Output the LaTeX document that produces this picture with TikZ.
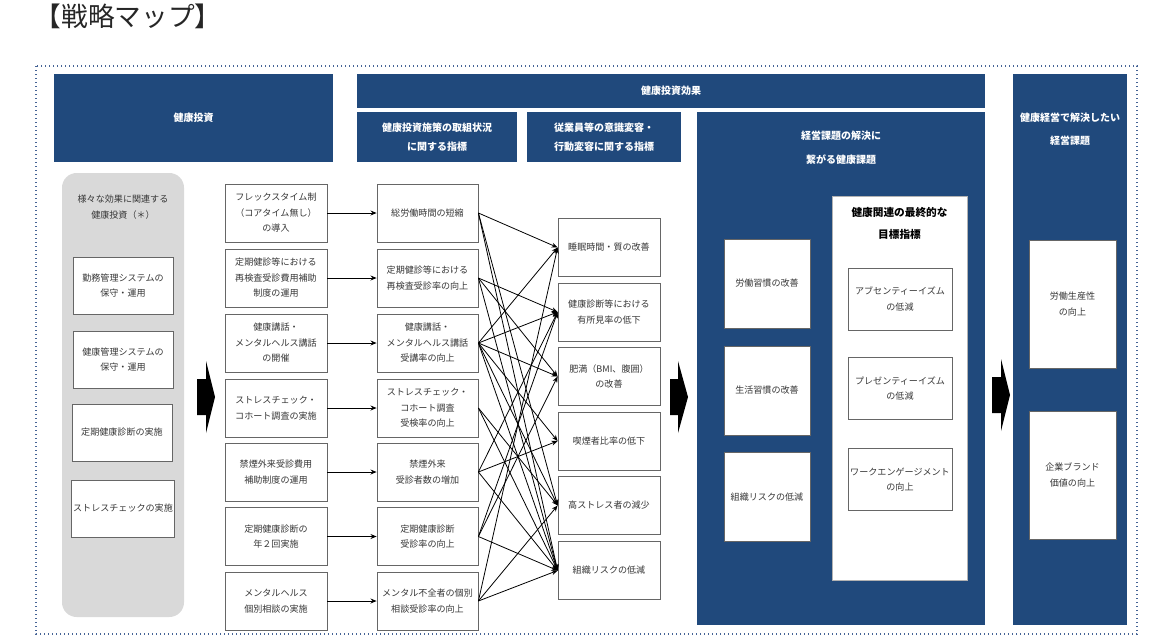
\documentclass[tikz,border=0pt]{standalone}
\usepackage{fontspec}
\usepackage{xcolor}
\usepackage{tikz}
\usetikzlibrary{arrows.meta,positioning}
\setmainfont{Noto Sans CJK JP}
\definecolor{navy}{RGB}{32,73,124}
\definecolor{panelgray}{RGB}{217,217,217}
\definecolor{txt}{RGB}{55,55,55}
\definecolor{frameblue}{RGB}{70,100,150}

\begin{document}
\begin{tikzpicture}[x=0.75pt, y=-0.75pt,
  hdr/.style={fill=navy, text=white, font=\bfseries\fontsize{7.5}{14}\selectfont, align=center, inner sep=0pt},
  box/.style={draw=gray!80!black, fill=white, line width=0.6pt, align=center, text=txt, font=\fontsize{6.8}{11.6}\selectfont, minimum width=76.5pt, minimum height=43.5pt, inner sep=1pt},
  arr/.style={-{Stealth[length=1.6mm, width=1.3mm]}, line width=0.7pt}]
  \useasboundingbox (0,0) rectangle (1169,643);
  \node[font=\fontsize{20}{22}\selectfont, text=black!85] (title) at (128,16) {【戦略マップ】};
  \draw[frameblue, dotted, line width=1pt] (36,66) rectangle (1137,634);

  \node[hdr, minimum width=209.25pt, minimum height=66pt] (inv) at (193.5,118) {健康投資};
  \node[hdr, minimum width=471pt, minimum height=25.5pt] (eff) at (671,91) {健康投資効果};
  \node[hdr, minimum width=120pt, minimum height=37.5pt] (kpi1) at (437,137) {健康投資施策の取組状況\\に関する指標};
  \node[hdr, minimum width=115.5pt, minimum height=37.5pt] (kpi2) at (604,137) {従業員等の意識変容・\\行動変容に関する指標};
  \node[hdr, minimum width=216pt, minimum height=384.75pt] (issue) at (841,368.5) {};
  \node[hdr, font=\bfseries\fontsize{7.5}{18}\selectfont] (issuet) at (841,148) {経営課題の解決に\\繋がる健康課題};
  \node[hdr, minimum width=85.5pt, minimum height=413.25pt] (mgmt) at (1070,349.5) {};
  \node[hdr, font=\bfseries\fontsize{7.5}{17}\selectfont] (mgmtt) at (1070,129.5) {健康経営で解決したい\\経営課題};

  \node[fill=panelgray, rounded corners=11pt, minimum width=91.5pt, minimum height=333pt] (base) at (123,395) {};
  \node[text=txt, align=center, font=\fontsize{6.8}{11.6}\selectfont] (baset) at (123,207) {様々な効果に関連する\\健康投資（＊）};
  \node[box, minimum width=75pt, minimum height=42.75pt] (b1) at (123,285.5) {勤務管理システムの\\保守・運用};
  \node[box, minimum width=75pt, minimum height=42.75pt] (b2) at (123,359.5) {健康管理システムの\\保守・運用};
  \node[box, minimum width=75pt, minimum height=42.75pt] (b3) at (122,432.5) {定期健康診断の実施};
  \node[box, minimum width=75pt, minimum height=42.75pt] (b4) at (123,508.5) {ストレスチェックの実施};

  \node[box] (s1) at (276,213) {フレックスタイム制\\（コアタイム無し）\\の導入};
  \node[box] (s2) at (276,278) {定期健診等における\\再検査受診費用補助\\制度の運用};
  \node[box] (s3) at (276,343) {健康講話・\\メンタルヘルス講話\\の開催};
  \node[box] (s4) at (276,408) {ストレスチェック・\\コホート調査の実施};
  \node[box] (s5) at (276,472) {禁煙外来受診費用\\補助制度の運用};
  \node[box] (s6) at (276,536.5) {定期健康診断の\\年２回実施};
  \node[box] (s7) at (276,601) {メンタルヘルス\\個別相談の実施};

  \node[box, minimum width=75.75pt] (k1) at (427.5,213) {総労働時間の短縮};
  \node[box, minimum width=75.75pt] (k2) at (427.5,278) {定期健診等における\\再検査受診率の向上};
  \node[box, minimum width=75.75pt] (k3) at (427.5,343) {健康講話・\\メンタルヘルス講話\\受講率の向上};
  \node[box, minimum width=75.75pt] (k4) at (427.5,408) {ストレスチェック・\\コホート調査\\受検率の向上};
  \node[box, minimum width=75.75pt] (k5) at (427.5,472) {禁煙外来\\受診者数の増加};
  \node[box, minimum width=75.75pt] (k6) at (427.5,536.5) {定期健康診断\\受診率の向上};
  \node[box, minimum width=75.75pt] (k7) at (427.5,601) {メンタル不全者の個別\\相談受診率の向上};

  \node[box] (e1) at (609,247.5) {睡眠時間・質の改善};
  \node[box] (e2) at (609,312) {健康診断等における\\有所見率の低下};
  \node[box] (e3) at (609,376.5) {肥満（BMI、腹囲）\\の改善};
  \node[box] (e4) at (609,441) {喫煙者比率の低下};
  \node[box] (e5) at (609,505.5) {高ストレス者の減少};
  \node[box] (e6) at (609,570.5) {組織リスクの低減};

  \node[box, minimum width=64.5pt, minimum height=66.75pt] (h1) at (767,283.5) {労働習慣の改善};
  \node[box, minimum width=64.5pt, minimum height=66.75pt] (h2) at (767,390.5) {生活習慣の改善};
  \node[box, minimum width=64.5pt, minimum height=66.75pt] (h3) at (767,497) {組織リスクの低減};
  \node[fill=white, draw=gray!60, minimum width=101.25pt, minimum height=288pt] (goal) at (899.5,388) {};
  \node[font=\bfseries\fontsize{8}{17}\selectfont, align=center] (goalt) at (899.5,223.5) {健康関連の最終的な\\目標指標};
  \node[box, minimum width=78pt, minimum height=46.5pt] (g1) at (900,299) {アブセンティーイズム\\の低減};
  \node[box, minimum width=78pt, minimum height=46.5pt] (g2) at (900,388.5) {プレゼンティーイズム\\の低減};
  \node[box, minimum width=78pt, minimum height=46.5pt] (g3) at (900,479.5) {ワークエンゲージメント\\の向上};

  \node[box, minimum width=65.25pt, minimum height=96pt] (m1) at (1072.5,304) {労働生産性\\の向上};
  \node[box, minimum width=65.25pt, minimum height=96pt] (m2) at (1072.5,475) {企業ブランド\\価値の向上};

  \foreach \xa/\xb/\xc/\yc in {197/206/215/397, 670/678/688/397, 992/1001/1010/395}
    \fill ({\xa},{\yc-18}) -- ({\xb},{\yc-18}) -- ({\xb},{\yc-36}) -- ({\xc},{\yc}) -- ({\xb},{\yc+36}) -- ({\xb},{\yc+18}) -- ({\xa},{\yc+18}) -- cycle;

  \foreach \i in {1,...,7} \draw[arr] (s\i.east) -- (k\i.west);
  \foreach \a/\b in {1/1,1/5,1/6, 2/2,2/3,2/6, 3/1,3/2,3/3,3/4,3/5,3/6, 4/5,4/6, 5/2,5/4,5/6, 6/2,6/3,6/6, 7/1,7/5,7/6}
    \draw[arr, line width=0.6pt] (k\a.east) -- (e\b.west);
\end{tikzpicture}
\end{document}
